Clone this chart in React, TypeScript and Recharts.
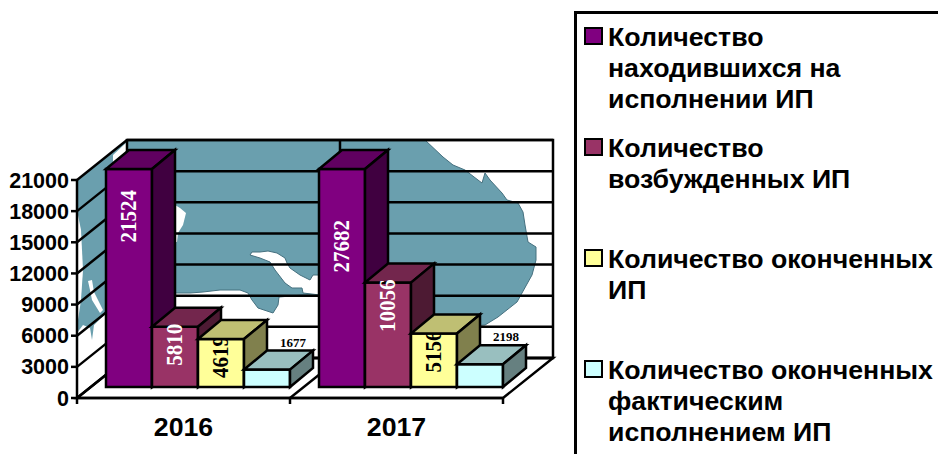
import React from 'react';
import { BarChart, Bar, XAxis, YAxis, CartesianGrid, Legend } from 'recharts';

const years = ['2016', '2017'];
const inExecution = [21524, 27682];
const initiated = [5810, 10056];
const finished = [4619, 5156];
const finishedByExecution = [1677, 2198];
const yTicks = [0, 3000, 6000, 9000, 12000, 15000, 18000, 21000];
const axisMax = 21000;

const seriesKeys = ['inExecution', 'initiated', 'finished', 'finishedByExecution'];
const seriesValues = [inExecution, initiated, finished, finishedByExecution];
const legendLabels = [
  ['Количество', 'находившихся на', 'исполнении ИП'],
  ['Количество', 'возбужденных ИП'],
  ['Количество оконченных', 'ИП'],
  ['Количество оконченных', 'фактическим', 'исполнением ИП'],
];

const chartData = years.map((year, i) => {
  const row: any = { year };
  seriesKeys.forEach((key, s) => { row[key] = seriesValues[s][i]; });
  return row;
});

// front, top and side face of each 3D bar
const faces = [
  { front: '#800080', top: '#600060', side: '#400040', label: '#ffffff' },
  { front: '#993366', top: '#73264d', side: '#4d1a33', label: '#ffffff' },
  { front: '#ffff99', top: '#bfbf73', side: '#80804d', label: '#000000' },
  { front: '#ccffff', top: '#99bfbf', side: '#668080', label: '#000000' },
];
const legendTops = [27, 138, 249, 360];

const SANS = '"Liberation Sans", Arial, sans-serif';
const SERIF = '"Liberation Serif", "Times New Roman", serif';
const INK = 2.5;
const WATER = '#6a9fae';

// chart box: the plot area is the front edge of the floor
const PLOT = { left: 77, right: 503, top: 180, bottom: 398 };
const WALL = { dx: 50, dy: -40 };
const BAR_SHIFT = { dx: 13.5, dy: -11 };
const BAR_DEPTH = { dx: 23, dy: -19 };

// picture behind the chart (map of Australia), not data
const mapBack = '127,140 425,140 443,157 453,165 465,170 478,180 482,183 485,173 490,180 502,193 507,200 518,203 523,212 525,225 528,242 536,247 536,260 532,275 522,293 517,302 498,317 485,325 420,330 365,305 320,295 302,295 279,297 278,305 273,313 258,308 252,300 248,293 240,290 220,290 203,292 190,293 175,293 127,296';
const mapGulf = '252,252 260,252 268,251 277,253 285,258 287,263 290,268 300,275 310,280 313,275 320,275 320,295 303,293 302,288 292,288 285,283 275,270 270,262 260,258 250,255';
const mapCape = '150,203 175,205 180,208 186,213 183,225 178,233 177,242 150,242';
const mapLeftWall = `${PLOT.left},${PLOT.top} ${PLOT.left + WALL.dx},${PLOT.top + WALL.dy} ${PLOT.left + WALL.dx},${PLOT.bottom + WALL.dy} ${PLOT.left},${PLOT.bottom}`;
const mapLeftWhite = ['113,163 113,155 127,142 127,163', '78,215 81,230 83,270 81,300 78,320', '88,281 92,280 94,292 103,310 100,313 92,300 90,290', '77,333 83,325 90,328 92,340 94,325 106,313 110,400 77,400'];

// sits under the transparent chart
const Walls = () => {
  const { left, right, top, bottom } = PLOT;
  const { dx, dy } = WALL;
  const mid = (left + right) / 2;
  const line = { stroke: '#000', strokeWidth: INK };
  return (
    <svg width={938} height={454} style={{ position: 'absolute', left: 0, top: 0 }}>
      <polygon points={mapLeftWall} fill={WATER} />
      {mapLeftWhite.map((p, i) => <polygon key={i} points={p} fill="#fff" />)}
      <polygon points={mapBack} fill={WATER} stroke="#45707f" strokeWidth={1} />
      <polygon points={mapGulf} fill="#fff" stroke="#45707f" strokeWidth={1} />
      <polygon points={mapCape} fill="#fff" />
      <polygon
        points={`${left},${bottom} ${right},${bottom} ${right + dx},${bottom + dy} ${left + dx},${bottom + dy}`}
        fill="#fff"
        {...line}
      />
      <rect x={left + dx} y={top + dy} width={right - left} height={bottom - top} fill="none" {...line} />
      <line x1={mid + dx} y1={top + dy} x2={mid + dx} y2={bottom + dy} {...line} />
      <line x1={mid} y1={bottom} x2={mid + dx} y2={bottom + dy} {...line} />
      <line x1={left} y1={bottom} x2={left} y2={bottom + 6} {...line} />
      <line x1={mid} y1={bottom} x2={mid} y2={bottom + 6} {...line} />
      <line x1={right} y1={bottom} x2={right} y2={bottom + 6} {...line} />
    </svg>
  );
};

// one grid value: a line along the side wall plus a line along the back wall
const gridLine = (props: any) => {
  const { y1, key } = props;
  const { left, right } = PLOT;
  const { dx, dy } = WALL;
  return (
    <g key={key}>
      <line x1={left} y1={y1} x2={left + dx} y2={y1 + dy} stroke="#000" strokeWidth={INK} />
      <line x1={left + dx} y1={y1 + dy} x2={right + dx} y2={y1 + dy} stroke="#000" strokeWidth={INK} />
    </g>
  );
};

// labels of the two bars cut by the axis maximum sit lower than the bar top
const clippedLabelDrop: Record<number, number> = { 21524: 24, 27682: 54 };

const makeBar = (s: number) => (props: any) => {
  const { x, y, width, height, payload } = props;
  const value = payload[seriesKeys[s]];
  const c = faces[s];
  const x0 = x + BAR_SHIFT.dx;
  const y0 = y + BAR_SHIFT.dy;
  const x1 = x0 + width;
  const y1 = y0 + height;
  const { dx, dy } = BAR_DEPTH;
  const edge = { stroke: '#000', strokeWidth: INK, strokeLinejoin: 'miter' as const };

  let label;
  if (s === 3) {
    label = (
      <text x={x1 + 3} y={y0 - 23} textAnchor="middle" fontFamily={SERIF} fontWeight="bold" fontSize={13} fill="#000">
        {value}
      </text>
    );
  } else {
    const cx = (x0 + x1) / 2 - 1;
    const end = y0 - 3 + (clippedLabelDrop[value] || 0);
    label = (
      <text
        transform={`rotate(-90 ${cx} ${end})`}
        x={cx}
        y={end + 8}
        textAnchor="end"
        fontFamily={SERIF}
        fontWeight="bold"
        fontSize={24}
        textLength={String(value).length * 10.5}
        lengthAdjust="spacingAndGlyphs"
        fill={c.label}
      >
        {value}
      </text>
    );
  }
  const labelUnderFaces = c.label === '#000000' && s !== 3;

  return (
    <g>
      <rect x={x0} y={y0} width={width} height={height} fill={c.front} {...edge} />
      {labelUnderFaces && label}
      <polygon points={`${x0},${y0} ${x1},${y0} ${x1 + dx},${y0 + dy} ${x0 + dx},${y0 + dy}`} fill={c.top} {...edge} />
      <polygon points={`${x1},${y0} ${x1 + dx},${y0 + dy} ${x1 + dx},${y1 + dy} ${x1},${y1}`} fill={c.side} {...edge} />
      {!labelUnderFaces && label}
    </g>
  );
};

const LegendBox = () => (
  <div style={{ position: 'relative', width: 364, height: 443, borderLeft: '3px solid #000', borderTop: '3px solid #000', boxSizing: 'border-box', fontFamily: SANS, fontWeight: 'bold', fontSize: 26.7, lineHeight: '31px', color: '#000' }}>
    {legendLabels.map((lines, i) => (
      <div key={i}>
        <div style={{ position: 'absolute', left: 7, top: legendTops[i] - 14, width: 19, height: 18, boxSizing: 'border-box', background: faces[i].front, border: '2.5px solid #000' }} />
        <div style={{ position: 'absolute', left: 31, top: legendTops[i] - 19, whiteSpace: 'nowrap' }}>
          {lines.map((t, j) => <div key={j}>{t}</div>)}
        </div>
      </div>
    ))}
  </div>
);

const App = () => (
  <div style={{ position: 'absolute', left: 0, top: 0, width: 938, height: 454 }}>
    <Walls />
    <BarChart
      width={938}
      height={454}
      data={chartData}
      margin={{ top: PLOT.top, right: 938 - PLOT.right, bottom: 0, left: 0 }}
      barCategoryGap={15.5}
      barGap={0}
    >
      <CartesianGrid vertical={false} horizontal={gridLine} syncWithTicks />
      <XAxis
        dataKey="year"
        height={56}
        tickLine={false}
        tickMargin={13}
        axisLine={{ stroke: '#000', strokeWidth: INK }}
        tick={{ fill: '#000', fontFamily: SANS, fontWeight: 'bold', fontSize: 26.7 }}
      />
      <YAxis
        width={PLOT.left}
        domain={[0, axisMax]}
        ticks={yTicks}
        interval={0}
        tickSize={6}
        tickMargin={2}
        axisLine={{ stroke: '#000', strokeWidth: INK }}
        tickLine={{ stroke: '#000', strokeWidth: INK }}
        tick={{ fill: '#000', fontFamily: SANS, fontWeight: 'bold', fontSize: 21.5 }}
      />
      {seriesKeys.map((key, s) => (
        <Bar
          key={key}
          dataKey={(row: any) => Math.min(row[key], axisMax)}
          fill={faces[s].front}
          shape={makeBar(s)}
          isAnimationActive={false}
        />
      ))}
      <Legend
        layout="vertical"
        align="center"
        verticalAlign="middle"
        content={LegendBox}
        wrapperStyle={{ position: 'absolute', left: 574, top: 11, width: 364, height: 443 }}
      />
    </BarChart>
  </div>
);

export default App;
